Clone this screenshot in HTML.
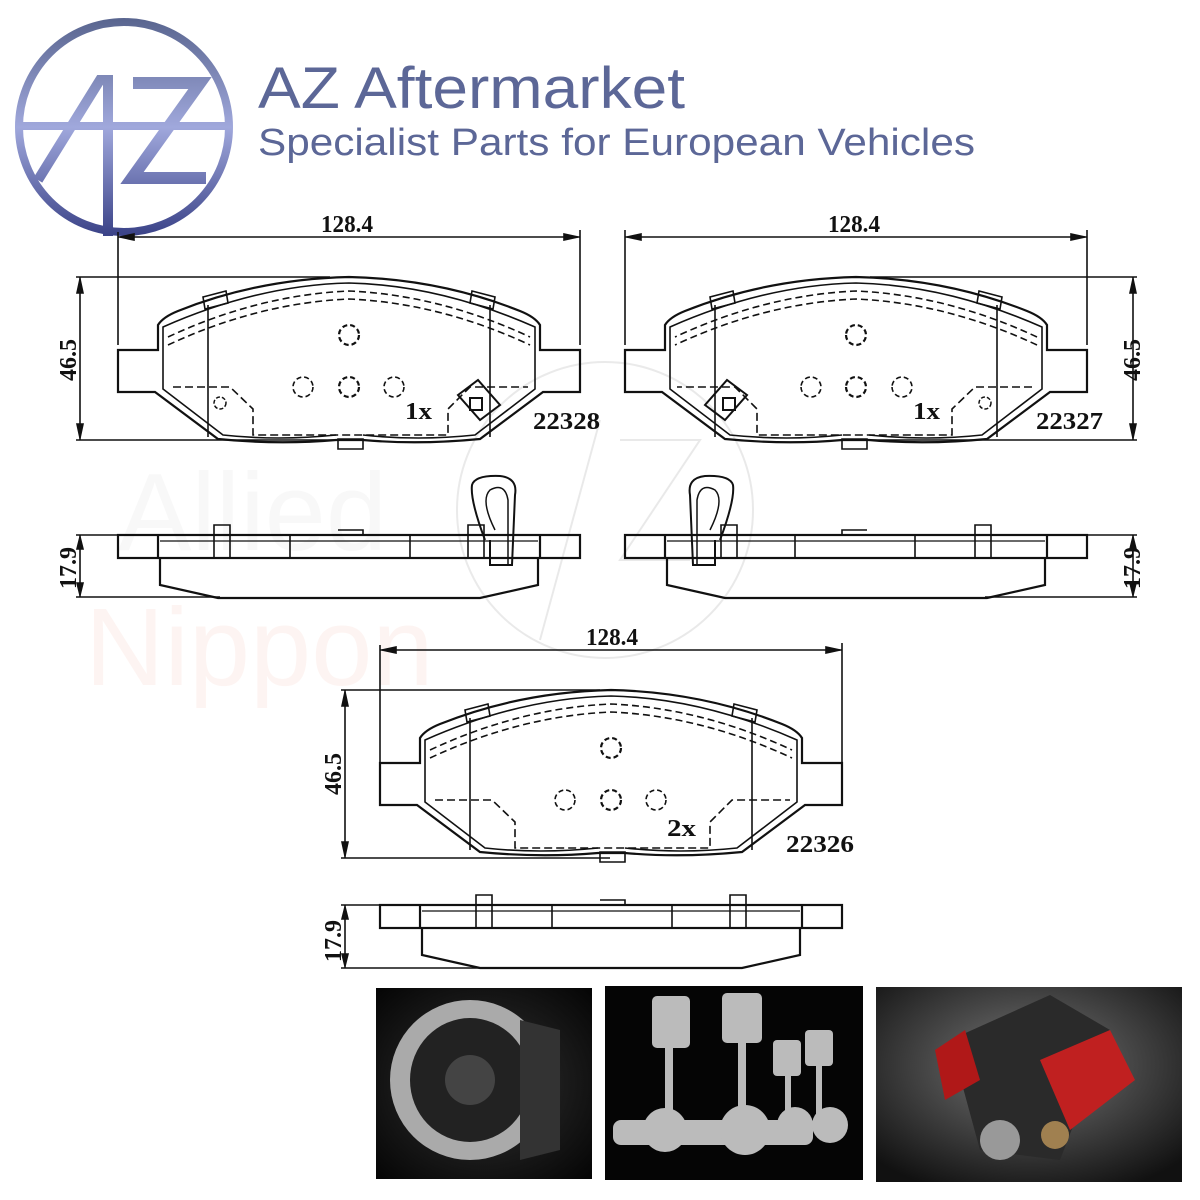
<!DOCTYPE html>
<html><head><meta charset="utf-8"><style>
html,body{margin:0;padding:0;background:#fff;}
svg{display:block;}
</style></head><body>
<svg width="1200" height="1200" viewBox="0 0 1200 1200" xmlns="http://www.w3.org/2000/svg">
<defs>
<linearGradient id="lg" gradientUnits="userSpaceOnUse" x1="0" y1="20" x2="0" y2="235">
<stop offset="0" stop-color="#5a6690"/><stop offset="0.5" stop-color="#a0a8dc"/><stop offset="1" stop-color="#3b4388"/>
</linearGradient>
<radialGradient id="bg1" cx="0.5" cy="0.5" r="0.7"><stop offset="0" stop-color="#333"/><stop offset="1" stop-color="#050505"/></radialGradient>
<radialGradient id="bg3" cx="0.5" cy="0.4" r="0.7"><stop offset="0" stop-color="#777"/><stop offset="1" stop-color="#111"/></radialGradient>
<g id="pad" fill="none" stroke="#111" stroke-width="2.2">
<path d="M0,73 H40 V48 Q45,40 60,34 Q140,2 231,0 Q322,2 402,34 Q417,40 422,48 V73 H462 V115 H425 L362,162 Q300,168 245,163 H218 Q160,168 100,162 L37,115 H0 Z"/>
<path d="M45,75 V50 Q140,8 231,6 Q322,8 417,50 V75 M45,75 V112 L105,158 Q160,164 218,158 M245,158 Q300,164 357,158 L417,112 V75" stroke-width="1.6"/>
<path d="M50,60 Q140,18 231,14 Q322,18 412,60" stroke-dasharray="7,4" stroke-width="1.6"/>
<path d="M50,68 Q140,26 231,22 Q322,26 412,68" stroke-dasharray="7,4" stroke-width="1.6"/>
<line x1="90" y1="28" x2="90" y2="160" stroke-width="1.6"/>
<line x1="372" y1="28" x2="372" y2="160" stroke-width="1.6"/>
<path d="M85,20 L108,14 L110,26 L87,32 Z M354,14 L377,20 L375,32 L352,26 Z M220,162 H245 V172 H220 Z" stroke-width="1.6"/>
<path d="M55,110 H112 L135,132 V158 H330 V132 L352,110 H410" stroke-dasharray="8,4" stroke-width="1.6"/>
<circle cx="231" cy="58" r="10" stroke-dasharray="5,3"/>
<circle cx="185" cy="110" r="10" stroke-dasharray="5,3" stroke-width="1.6"/>
<circle cx="231" cy="110" r="10" stroke-dasharray="5,3"/>
<circle cx="276" cy="110" r="10" stroke-dasharray="5,3" stroke-width="1.6"/>
</g>
<g id="side" fill="none" stroke="#111" stroke-width="2.2">
<rect x="0" y="0" width="462" height="23"/>
<line x1="40" y1="0" x2="40" y2="23"/><line x1="422" y1="0" x2="422" y2="23"/>
<line x1="42" y1="6" x2="420" y2="6" stroke-width="1.2"/>
<path d="M42,23 V50 L100,63 H362 L420,50 V23"/>
<path d="M96,-10 H112 V23 H96 Z M350,-10 H366 V23 H350 Z M220,-5 H245 V0 M172,0 V23 M292,0 V23" stroke-width="1.6"/>
</g>
</defs>

<g opacity="0.25" fill="none" stroke="#aaa" stroke-width="2">
<circle cx="605" cy="510" r="148"/>
<path d="M540,640 L600,420 M620,440 H700 L620,560 H690"/>
</g>
<text x="118" y="550" font-family="Liberation Sans, sans-serif" font-size="110" fill="#f2f2f2" opacity="0.5">Allied</text>
<text x="85" y="685" font-family="Liberation Sans, sans-serif" font-size="110" fill="#fdeeea" opacity="0.6">Nippon</text>

<g>
<circle cx="124" cy="127" r="105" fill="none" stroke="url(#lg)" stroke-width="8"/>
<path d="M38,180 L100,80 H108 V236" fill="none" stroke="url(#lg)" stroke-width="10"/>
<path d="M133,83 H200 L132,178 H206" fill="none" stroke="url(#lg)" stroke-width="12"/>
<rect x="22" y="122" width="204" height="8" fill="url(#lg)"/>
</g>
<text x="258" y="108" font-family="Liberation Sans, sans-serif" font-size="58" fill="#5c6797" textLength="427" lengthAdjust="spacingAndGlyphs">AZ Aftermarket</text>
<text x="258" y="155" font-family="Liberation Sans, sans-serif" font-size="38" fill="#5c6797" textLength="717" lengthAdjust="spacingAndGlyphs">Specialist Parts for European Vehicles</text>

<use href="#pad" transform="translate(118,277)"/>
<use href="#pad" transform="translate(1087,277) scale(-1,1)"/>
<use href="#pad" transform="translate(380,690)"/>
<use href="#side" transform="translate(118,535)"/>
<use href="#side" transform="translate(1087,535) scale(-1,1)"/>
<use href="#side" transform="translate(380,905)"/>

<g fill="none" stroke="#111" stroke-width="2">
<path d="M485,540 Q470,500 472,485 Q475,475 500,476 Q518,478 515,495 L512,565 H490 V540"/>
<path d="M495,530 Q480,500 490,490 Q505,482 508,500 V565" stroke-width="1.5"/>
<path d="M720,540 Q735,500 733,485 Q730,475 705,476 Q687,478 690,495 L693,565 H715 V540"/>
<path d="M710,530 Q725,500 715,490 Q700,482 697,500 V565" stroke-width="1.5"/>
<path d="M458,395 L478,380 L500,405 L480,420 Z M470,398 h12 v12 h-12 Z"/>
<path d="M747,395 L727,380 L705,405 L725,420 Z M723,398 h12 v12 h-12 Z"/>
<circle cx="220" cy="403" r="6" stroke-dasharray="4,2" stroke-width="1.5"/>
<circle cx="985" cy="403" r="6" stroke-dasharray="4,2" stroke-width="1.5"/>
</g>

<g stroke="#111" stroke-width="1.6" fill="#111">
<line x1="118" y1="237" x2="580" y2="237"/><line x1="118" y1="232" x2="118" y2="345"/><line x1="580" y1="230" x2="580" y2="345"/>
<path d="M120,237 l14,-3 v6 Z M578,237 l-14,-3 v6 Z"/>
<line x1="625" y1="237" x2="1087" y2="237"/><line x1="625" y1="230" x2="625" y2="345"/><line x1="1087" y1="230" x2="1087" y2="345"/>
<path d="M627,237 l14,-3 v6 Z M1085,237 l-14,-3 v6 Z"/>
<line x1="380" y1="650" x2="842" y2="650"/><line x1="380" y1="645" x2="380" y2="763"/><line x1="842" y1="643" x2="842" y2="763"/>
<path d="M382,650 l14,-3 v6 Z M840,650 l-14,-3 v6 Z"/>
<line x1="80" y1="277" x2="80" y2="440"/><line x1="76" y1="277" x2="330" y2="277"/><line x1="76" y1="440" x2="340" y2="440"/>
<path d="M80,279 l-3,14 h6 Z M80,438 l-3,-14 h6 Z"/>
<line x1="1133" y1="277" x2="1133" y2="440"/><line x1="870" y1="277" x2="1137" y2="277"/><line x1="860" y1="440" x2="1137" y2="440"/>
<path d="M1133,279 l-3,14 h6 Z M1133,438 l-3,-14 h6 Z"/>
<line x1="345" y1="690" x2="345" y2="858"/><line x1="341" y1="690" x2="600" y2="690"/><line x1="341" y1="858" x2="610" y2="858"/>
<path d="M345,692 l-3,14 h6 Z M345,856 l-3,-14 h6 Z"/>
<line x1="80" y1="535" x2="80" y2="597"/><line x1="76" y1="535" x2="118" y2="535"/><line x1="76" y1="597" x2="220" y2="597"/>
<path d="M80,537 l-3,12 h6 Z M80,595 l-3,-12 h6 Z"/>
<line x1="1133" y1="535" x2="1133" y2="597"/><line x1="1087" y1="535" x2="1137" y2="535"/><line x1="985" y1="597" x2="1137" y2="597"/>
<path d="M1133,537 l-3,12 h6 Z M1133,595 l-3,-12 h6 Z"/>
<line x1="345" y1="905" x2="345" y2="968"/><line x1="341" y1="905" x2="380" y2="905"/><line x1="341" y1="968" x2="480" y2="968"/>
<path d="M345,907 l-3,12 h6 Z M345,966 l-3,-12 h6 Z"/>
</g>
<g font-family="Liberation Serif, serif" font-size="24" fill="#111" font-weight="bold">
<text x="321" y="232" textLength="52" lengthAdjust="spacingAndGlyphs">128.4</text>
<text x="828" y="232" textLength="52" lengthAdjust="spacingAndGlyphs">128.4</text>
<text x="586" y="645" textLength="52" lengthAdjust="spacingAndGlyphs">128.4</text>
<text transform="translate(76,381) rotate(-90)" textLength="42" lengthAdjust="spacingAndGlyphs">46.5</text>
<text transform="translate(1140,381) rotate(-90)" textLength="42" lengthAdjust="spacingAndGlyphs">46.5</text>
<text transform="translate(341,795) rotate(-90)" textLength="42" lengthAdjust="spacingAndGlyphs">46.5</text>
<text transform="translate(76,589) rotate(-90)" textLength="42" lengthAdjust="spacingAndGlyphs">17.9</text>
<text transform="translate(1140,589) rotate(-90)" textLength="42" lengthAdjust="spacingAndGlyphs">17.9</text>
<text transform="translate(341,962) rotate(-90)" textLength="42" lengthAdjust="spacingAndGlyphs">17.9</text>
<text x="533" y="429" textLength="67" lengthAdjust="spacingAndGlyphs">22328</text>
<text x="1036" y="429" textLength="67" lengthAdjust="spacingAndGlyphs">22327</text>
<text x="786" y="852" textLength="68" lengthAdjust="spacingAndGlyphs">22326</text>
<text x="405" y="419" textLength="27" lengthAdjust="spacingAndGlyphs">1x</text>
<text x="913" y="419" textLength="27" lengthAdjust="spacingAndGlyphs">1x</text>
<text x="667" y="836" textLength="29" lengthAdjust="spacingAndGlyphs">2x</text>
</g>

<rect x="376" y="988" width="216" height="191" fill="url(#bg1)"/>
<ellipse cx="470" cy="1080" rx="80" ry="80" fill="#aaa"/>
<ellipse cx="470" cy="1080" rx="60" ry="62" fill="#222"/>
<circle cx="470" cy="1080" r="25" fill="#444"/>
<path d="M520,1020 L560,1030 V1150 L520,1160 Z" fill="#333"/>
<rect x="605" y="986" width="258" height="194" fill="#050505"/>
<g fill="#bbb">
<rect x="652" y="996" width="38" height="52" rx="5"/><rect x="722" y="993" width="40" height="50" rx="5"/>
<rect x="773" y="1040" width="28" height="36" rx="4"/><rect x="805" y="1030" width="28" height="36" rx="4"/>
<rect x="665" y="1045" width="8" height="70"/><rect x="738" y="1040" width="8" height="80"/><rect x="785" y="1075" width="6" height="60"/><rect x="816" y="1065" width="6" height="70"/>
<rect x="613" y="1120" width="200" height="25" rx="8"/>
<circle cx="665" cy="1130" r="22"/><circle cx="745" cy="1130" r="25"/><circle cx="795" cy="1125" r="18"/><circle cx="830" cy="1125" r="18"/>
</g>
<rect x="876" y="987" width="306" height="195" fill="url(#bg3)"/>
<path d="M950,1040 L1050,995 L1110,1030 L1060,1160 L980,1150 Z" fill="#2a2a2a"/>
<path d="M1040,1060 L1110,1030 L1135,1080 L1070,1130 Z" fill="#c02020"/>
<path d="M935,1050 L965,1030 L980,1080 L945,1100 Z" fill="#b01818"/>
<circle cx="1000" cy="1140" r="20" fill="#999"/><circle cx="1055" cy="1135" r="14" fill="#a08050"/>
</svg>
</body></html>
